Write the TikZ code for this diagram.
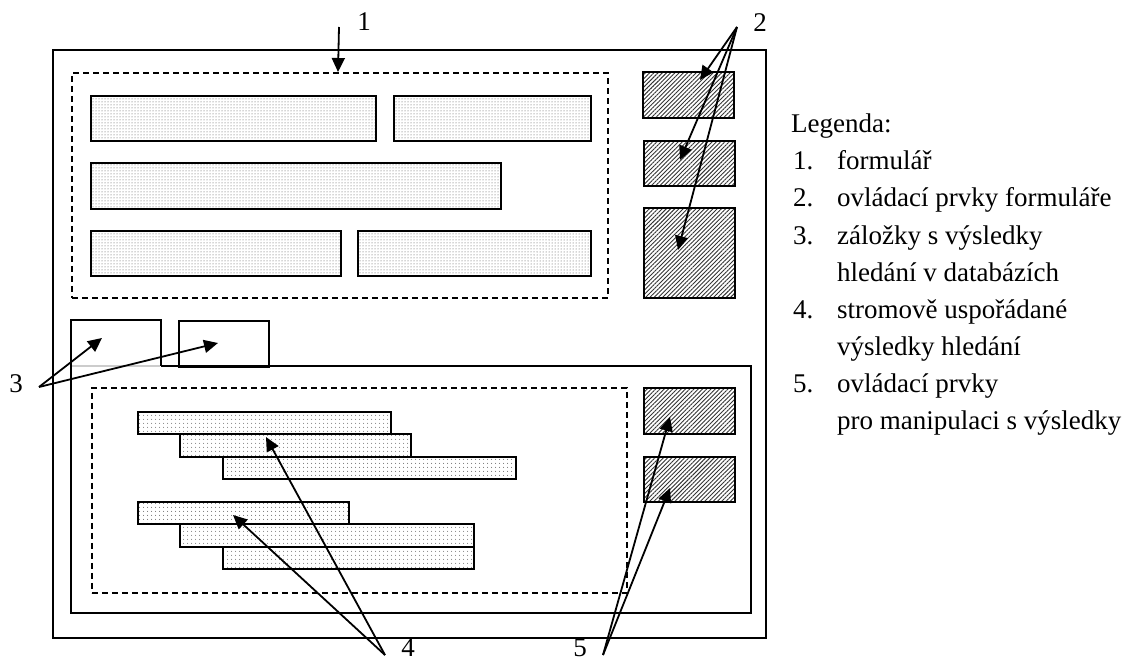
\documentclass[tikz,border=0pt]{standalone}
\usepackage{fontspec}
\setmainfont{Liberation Serif}
\usetikzlibrary{arrows.meta,patterns.meta}

\tikzset{
  frameline/.style={draw=black, line width=2pt},
  dashbox/.style={draw=black, line width=1.8pt, dash pattern=on 6pt off 4pt},
  field/.style={draw=black, line width=2pt, anchor=north west, inner sep=0pt,
    pattern={Dots[distance=3pt, radius=0.5pt]}, pattern color=black!70},
  treebar/.style={draw=black, line width=2pt, anchor=north west, inner sep=0pt,
    pattern={Dots[distance=4pt, radius=0.55pt]}, pattern color=black!75},
  ctrl/.style={draw=black, line width=2pt, anchor=north west, inner sep=0pt,
    pattern={Lines[angle=45, distance=3pt, line width=0.9pt]}, pattern color=black!80},
  tabbox/.style={draw=black, line width=2pt, anchor=north west, inner sep=0pt},
  callout/.style={line width=1.8pt, -{Triangle[length=14pt, width=13pt]}},
  txt/.style={font=\fontsize{27}{32}\selectfont, inner sep=0pt},
  legend/.style={txt, anchor=base west},
}

\begin{document}
\begin{tikzpicture}[x=1pt, y=-1pt]
\useasboundingbox (0,0) rectangle (1129,663);

% outer window
\node[frameline, anchor=north west, inner sep=0pt, minimum width=713pt, minimum height=588pt] (win) at (52,49) {};

% search form
\node[dashbox, anchor=north west, inner sep=0pt, minimum width=536pt, minimum height=225pt] (form) at (71,72) {};
\node[field, minimum width=285pt, minimum height=45pt] (f1) at (90,95) {};
\node[field, minimum width=197pt, minimum height=45pt] (f2) at (393,95) {};
\node[field, minimum width=410pt, minimum height=46pt] (f3) at (90,162) {};
\node[field, minimum width=250pt, minimum height=45pt] (f4) at (90,230) {};
\node[field, minimum width=233pt, minimum height=45pt] (f5) at (357,230) {};

% form controls
\node[ctrl, minimum width=91pt, minimum height=46pt] (c1) at (643,72) {};
\node[ctrl, minimum width=91pt, minimum height=45pt] (c2) at (643,140) {};
\node[ctrl, minimum width=91pt, minimum height=90pt] (c3) at (643,207) {};

% result panel with tabs (first tab is the active one)
\draw[frameline] (161,366) -- (751,366) -- (751,613) -- (71,613) -- (71,320) -- (161,320) -- (161,366);
\draw[line width=1.2pt, black!20] (72,366) -- (160,366);
\node[tabbox, minimum width=90pt, minimum height=46pt] (tab2) at (178,320) {};

% tree of results
\node[dashbox, anchor=north west, inner sep=0pt, minimum width=535pt, minimum height=205pt] (tree) at (91,387) {};
\node[treebar, minimum width=253pt, minimum height=22pt] (r1) at (137,411) {};
\node[treebar, minimum width=231pt, minimum height=23pt] (r2) at (179,433) {};
\node[treebar, minimum width=293pt, minimum height=22pt] (r3) at (222,456) {};
\node[treebar, minimum width=211pt, minimum height=22pt] (r4) at (137,501) {};
\node[treebar, minimum width=294pt, minimum height=23pt] (r5) at (179,523) {};
\node[treebar, minimum width=251pt, minimum height=22pt] (r6) at (222,546) {};

% result controls
\node[ctrl, minimum width=91pt, minimum height=46pt] (d1) at (643,387) {};
\node[ctrl, minimum width=91pt, minimum height=45pt] (d2) at (643,456) {};

% callout labels
\node[txt] (l1) at (364,22) {1};
\node[txt] (l2) at (760,23) {2};
\node[txt] (l3) at (16,384) {3};
\node[txt] (l4) at (408,648) {4};
\node[txt] (l5) at (580,648) {5};

% callout start points beside the labels
\coordinate (s1) at (339,27);
\coordinate (s2) at (737,27);
\coordinate (s3) at (39,387);
\coordinate (s4) at (385,655);
\coordinate (s5) at (603,655);

% callout targets
\coordinate (p1) at (338,72);
\coordinate (p2a) at (700,80);
\coordinate (p2b) at (680,160);
\coordinate (p2c) at (678,250);
\coordinate (p3a) at (102,338);
\coordinate (p3b) at (218,343);
\coordinate (p4a) at (266,437);
\coordinate (p4b) at (233,515);
\coordinate (p5a) at (670,417);
\coordinate (p5b) at (670,488);

\draw[callout] (s1) -- (p1);
\draw[callout] (s2) -- (p2a);
\draw[callout] (s2) -- (p2b);
\draw[callout] (s2) -- (p2c);
\draw[callout] (s3) -- (p3a);
\draw[callout] (s3) -- (p3b);
\draw[callout] (s4) -- (p4a);
\draw[callout] (s4) -- (p4b);
\draw[callout] (s5) -- (p5a);
\draw[callout] (s5) -- (p5b);

% legend
\node[legend] (lg) at (791,133) {Legenda:};
\node[legend] (n1) at (793,170) {1.};
\node[legend] (t1) at (837,170) {formulář};
\node[legend] (n2) at (793,207) {2.};
\node[legend] (t2) at (837,207) {ovládací prvky formuláře};
\node[legend] (n3) at (793,244) {3.};
\node[legend] (t3) at (837,244) {záložky s výsledky};
\node[legend] (t3b) at (837,281) {hledání v databázích};
\node[legend] (n4) at (793,318) {4.};
\node[legend] (t4) at (837,318) {stromově uspořádané};
\node[legend] (t4b) at (837,355) {výsledky hledání};
\node[legend] (n5) at (793,392) {5.};
\node[legend] (t5) at (837,392) {ovládací prvky};
\node[legend] (t5b) at (837,429) {pro manipulaci s výsledky};
\end{tikzpicture}
\end{document}
